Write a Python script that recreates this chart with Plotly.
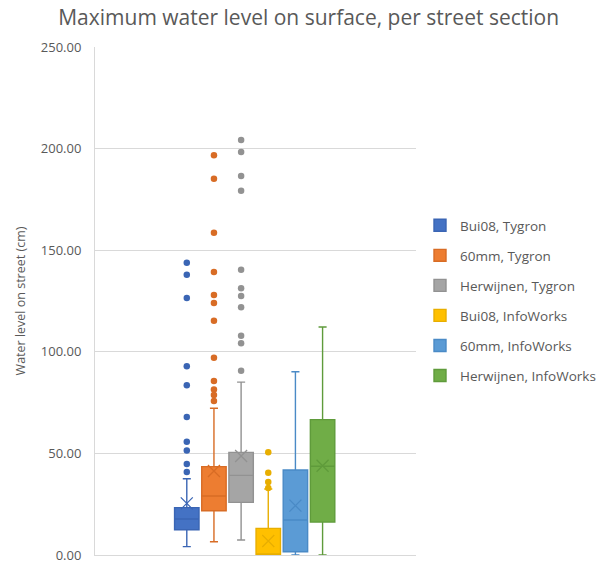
import plotly.graph_objects as go

# Series shown in the chart (one box per scenario / model)
series_names = [
    "Bui08, Tygron",
    "60mm, Tygron",
    "Herwijnen, Tygron",
    "Bui08, InfoWorks",
    "60mm, InfoWorks",
    "Herwijnen, InfoWorks",
]

# Box statistics, water level on street in cm
lower_whisker = [4.1, 6.5, 7.4, 0.0, 0.0, 0.0]
q1_values = [12.4, 21.8, 25.9, 0.0, 1.6, 16.2]
median_values = [17.7, 29.0, 39.2, 0.0, 17.2, 43.7]
q3_values = [23.3, 43.5, 50.5, 13.1, 41.8, 66.6]
upper_whisker = [37.5, 72.2, 85.1, 32.5, 90.2, 112.2]
mean_values = [25.4, 41.3, 48.7, 6.9, 24.3, 43.9]

# Outlying street sections per series
outliers_bui08_tygron = [40.8, 44.8, 51.4, 55.7, 67.9, 83.5, 92.9, 126.5, 137.9, 143.8]
outliers_60mm_tygron = [75.8, 78.7, 81.5, 85.6, 97.1, 115.3, 124.0, 128.0, 139.3, 158.6, 185.2, 196.7]
outliers_herwijnen_tygron = [90.7, 104.2, 107.9, 121.9, 127.5, 131.3, 140.4, 179.3, 186.5, 198.3, 204.2]
outliers_bui08_infoworks = [33.0, 35.9, 40.5, 50.6]
outliers_60mm_infoworks = []
outliers_herwijnen_infoworks = []

y_ticks = [0, 50, 100, 150, 200, 250]

outliers = [
    outliers_bui08_tygron,
    outliers_60mm_tygron,
    outliers_herwijnen_tygron,
    outliers_bui08_infoworks,
    outliers_60mm_infoworks,
    outliers_herwijnen_infoworks,
]

fill_colors = ["#4472C4", "#ED7D31", "#A5A5A5", "#FFC000", "#5B9BD5", "#70AD47"]
line_colors = ["#3A65B4", "#D86C25", "#929292", "#E8AE00", "#4A8AC6", "#5F9B3B"]

TEXT = "#595959"
GRID = "#D9D9D9"
FONT = "Open Sans"

fig = go.Figure()

for i, name in enumerate(series_names):
    fig.add_trace(go.Box(
        name=name,
        x=[i],
        lowerfence=[lower_whisker[i]],
        q1=[q1_values[i]],
        median=[median_values[i]],
        q3=[q3_values[i]],
        upperfence=[upper_whisker[i]],
        width=0.9,
        whiskerwidth=0.33,
        fillcolor=fill_colors[i],
        line=dict(color=line_colors[i], width=1.4),
        boxpoints=False,
        legendgroup=name,
        hoverinfo="skip",
    ))

for i, name in enumerate(series_names):
    if outliers[i]:
        fig.add_trace(go.Scatter(
            x=[i] * len(outliers[i]),
            y=outliers[i],
            mode="markers",
            marker=dict(color=line_colors[i], size=6.5, line=dict(width=0)),
            showlegend=False,
            legendgroup=name,
            hoverinfo="skip",
        ))
    # mean marker drawn as a thin cross
    fig.add_trace(go.Scatter(
        x=[i],
        y=[mean_values[i]],
        mode="markers",
        marker=dict(symbol="x-thin-open", size=12, color=line_colors[i],
                    line=dict(color=line_colors[i], width=1.3)),
        showlegend=False,
        legendgroup=name,
        hoverinfo="skip",
    ))

fig.update_layout(
    width=604,
    height=565,
    margin=dict(l=95, r=188, t=47, b=10, autoexpand=False),
    paper_bgcolor="white",
    plot_bgcolor="white",
    font=dict(family=FONT, color=TEXT, size=13),
    title=dict(
        text="Maximum water level on surface, per street section",
        font=dict(family=FONT, size=21, color=TEXT),
        x=0.511, xref="container", xanchor="center",
        y=1 - 18 / 565, yref="container", yanchor="middle",
    ),
    showlegend=True,
    legend=dict(
        xref="container", yref="container",
        x=420 / 604, xanchor="left",
        y=1 - 210 / 565, yanchor="top",
        font=dict(family=FONT, size=13.5, color=TEXT),
        tracegroupgap=9.5,
        bgcolor="rgba(0,0,0,0)",
    ),
    xaxis=dict(
        range=[-3.38, 8.44],
        showticklabels=False,
        showgrid=False,
        zeroline=False,
        showline=True,
        linecolor=GRID,
        linewidth=1,
        ticks="",
    ),
    yaxis=dict(
        range=[0, 250],
        tickvals=y_ticks,
        tickformat=".2f",
        showgrid=True,
        gridcolor=GRID,
        gridwidth=1,
        zeroline=False,
        showline=True,
        linecolor=GRID,
        linewidth=1,
        ticks="",
        ticklabelstandoff=10,
        tickfont=dict(family=FONT, size=13, color=TEXT),
        title=dict(
            text="Water level on street (cm)",
            font=dict(family=FONT, size=12.5, color=TEXT),
            standoff=12,
        ),
    ),
)

fig.write_html("out.html")
